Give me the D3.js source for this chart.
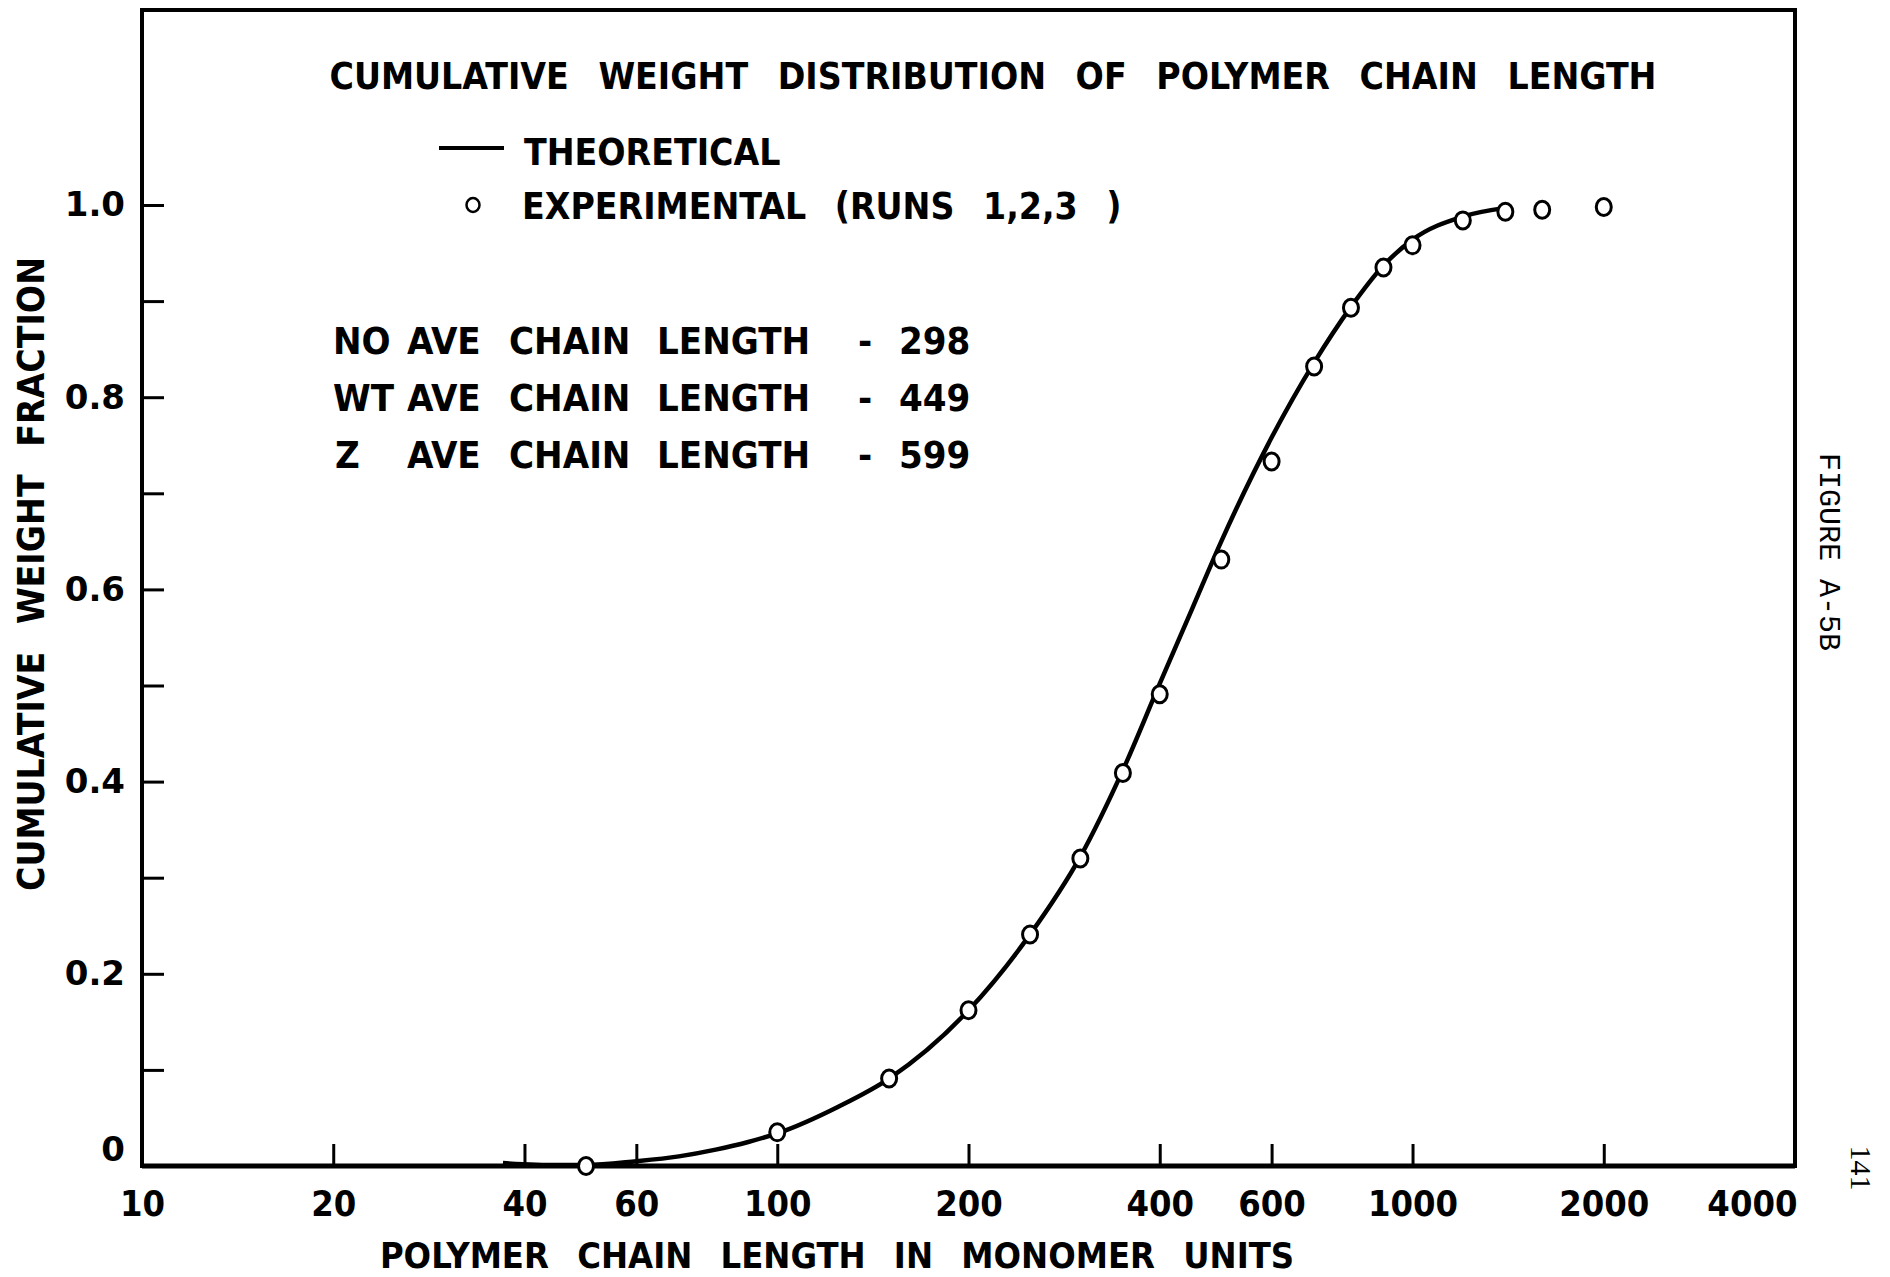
<!DOCTYPE html>
<html>
<head>
<meta charset="utf-8">
<script src="https://cdn.jsdelivr.net/npm/d3@7"></script>
<style>
  body { margin: 0; background: #fff; }
  .lett { font-family: "DejaVu Sans Condensed", "DejaVu Sans", sans-serif; font-stretch: condensed; font-weight: bold; fill: #000; }
  .ytick text { font-family: "DejaVu Sans", sans-serif; font-weight: bold; font-size: 34px; fill: #000; }
  .xtick text { font-family: "DejaVu Sans Condensed", "DejaVu Sans", sans-serif; font-stretch: condensed; font-weight: bold; font-size: 36px; fill: #000; }
  .typed { fill: #000; }
</style>
</head>
<body>
<div id="chart"></div>
<script>
// theoretical curve
var theoryX = [37, 45, 50, 60, 70, 80, 90, 100, 125, 150, 200, 250, 300, 350, 400, 450, 500, 600, 700, 800, 900, 1000, 1200, 1400];
var theoryY = [0.003, 0.001, 0.001, 0.005, 0.010, 0.017, 0.025, 0.034, 0.062, 0.091, 0.162, 0.241, 0.322, 0.412, 0.502, 0.58, 0.65, 0.758, 0.836, 0.894, 0.937, 0.964, 0.988, 0.997];

// experimental points (runs 1,2,3)
var expX = [50, 100, 150, 200, 250, 300, 350, 400, 500, 600, 700, 800, 900, 1000, 1200, 1400, 1600, 2000];
var expY = [0.0, 0.035, 0.091, 0.162, 0.241, 0.320, 0.409, 0.491, 0.631, 0.733, 0.832, 0.893, 0.935, 0.958, 0.984, 0.993, 0.995, 0.998];

var xTicks = [10, 20, 40, 60, 100, 200, 400, 600, 1000, 2000, 4000];
var yTicks = [0, 0.1, 0.2, 0.3, 0.4, 0.5, 0.6, 0.7, 0.8, 0.9, 1.0];
var yTickLabels = ["0", "", "0.2", "", "0.4", "", "0.6", "", "0.8", "", "1.0"];

var aveNames = ["NO", "WT", "Z"];
var aveValues = [298, 449, 599];

var width = 1890, height = 1277;
var mLeft = 142, mRight = 1795, mTop = 10, mBottom = 1166;

var svg = d3.select("#chart").append("svg")
    .attr("width", width)
    .attr("height", height);

var x = d3.scaleLog().domain([10, 4000]).range([mLeft, mRight]);
var y = d3.scaleLinear().domain([0, 1]).range([mBottom, 205]);

// frame
svg.append("rect")
    .attr("x", mLeft).attr("y", mTop)
    .attr("width", mRight - mLeft).attr("height", mBottom - mTop)
    .attr("fill", "none").attr("stroke", "#000").attr("stroke-width", 4);

// y axis, ticks pointing in
var yAxis = d3.axisLeft(y)
    .tickValues(yTicks)
    .tickSizeInner(-22).tickSizeOuter(0)
    .tickPadding(17)
    .tickFormat(function(d, i) { return yTickLabels[i]; });
var gy = svg.append("g").attr("class", "ytick")
    .attr("transform", "translate(" + mLeft + ",0)")
    .call(yAxis);
gy.select(".domain").remove();
gy.selectAll("line").attr("stroke", "#000").attr("stroke-width", 3);
gy.selectAll("text").filter(function(d) { return d == 0; }).attr("y", -16);

// x axis, ticks pointing up
var xAxis = d3.axisBottom(x)
    .tickValues(xTicks)
    .tickSizeInner(-22).tickSizeOuter(0)
    .tickPadding(24)
    .tickFormat(d3.format("d"));
var gx = svg.append("g").attr("class", "xtick")
    .attr("transform", "translate(0," + mBottom + ")")
    .call(xAxis);
gx.select(".domain").remove();
gx.selectAll("line").attr("stroke", "#000").attr("stroke-width", 3);
gx.selectAll("text").filter(function(d) { return d == 4000; })
    .attr("text-anchor", "end").attr("x", 2);

// bottom axis drawn a bit heavier
svg.append("line")
    .attr("x1", mLeft).attr("x2", mRight).attr("y1", mBottom).attr("y2", mBottom)
    .attr("stroke", "#000").attr("stroke-width", 5);

// theoretical line
var line = d3.line()
    .x(function(d) { return x(d[0]); })
    .y(function(d) { return y(d[1]); })
    .curve(d3.curveMonotoneX);
svg.append("path")
    .datum(d3.zip(theoryX, theoryY))
    .attr("d", line)
    .attr("fill", "none").attr("stroke", "#000").attr("stroke-width", 4.5);

// experimental circles
svg.selectAll(".pt")
    .data(d3.zip(expX, expY))
    .enter().append("ellipse")
    .attr("class", "pt")
    .attr("cx", function(d) { return x(d[0]); })
    .attr("cy", function(d) { return y(d[1]); })
    .attr("rx", 7.5).attr("ry", 8.5)
    .attr("fill", "#fff").attr("stroke", "#000").attr("stroke-width", 3);

// title
svg.append("text").attr("class", "lett")
    .attr("x", 993).attr("y", 89)
    .attr("text-anchor", "middle")
    .style("font-size", "37px").style("word-spacing", "18px")
    .text("CUMULATIVE WEIGHT DISTRIBUTION OF POLYMER CHAIN LENGTH");

// legend
svg.append("line")
    .attr("x1", 439).attr("x2", 504).attr("y1", 148).attr("y2", 148)
    .attr("stroke", "#000").attr("stroke-width", 4);
svg.append("text").attr("class", "lett")
    .attr("x", 524).attr("y", 165)
    .style("font-size", "37px")
    .text("THEORETICAL");
svg.append("ellipse")
    .attr("cx", 473).attr("cy", 205).attr("rx", 6.5).attr("ry", 7)
    .attr("fill", "#fff").attr("stroke", "#000").attr("stroke-width", 2.5);
svg.append("text").attr("class", "lett")
    .attr("x", 522).attr("y", 219)
    .style("font-size", "37px").style("word-spacing", "17px")
    .text("EXPERIMENTAL (RUNS 1,2,3 )");

// average chain length notes
var colX = [333, 407, 509, 657, 858, 899];
aveNames.forEach(function(n, i) {
    var words = [n, "AVE", "CHAIN", "LENGTH", "-", String(aveValues[i])];
    var ty = 354 + i * 57;
    svg.append("g").selectAll("text")
        .data(words).enter().append("text")
        .attr("class", "lett")
        .attr("x", function(_, j) { return colX[j] + (j == 0 && n == "Z" ? 2 : 0); })
        .attr("y", ty)
        .style("font-size", "38px")
        .text(function(d) { return d; });
});

// axis titles
svg.append("text").attr("class", "lett")
    .attr("x", 837).attr("y", 1268)
    .attr("text-anchor", "middle")
    .style("font-size", "36px").style("word-spacing", "17px")
    .text("POLYMER CHAIN LENGTH IN MONOMER UNITS");
svg.append("text").attr("class", "lett")
    .attr("transform", "translate(44,574) rotate(-90)")
    .attr("text-anchor", "middle")
    .style("font-size", "37px").style("word-spacing", "16px")
    .text("CUMULATIVE WEIGHT FRACTION");

// typed figure number and page number
svg.append("text").attr("class", "typed")
    .attr("transform", "translate(1820,552) rotate(90)")
    .attr("text-anchor", "middle")
    .style("font-family", "'Liberation Mono', 'DejaVu Sans Mono', monospace")
    .style("font-size", "30px")
    .text("FIGURE A-5B");
svg.append("text").attr("class", "typed")
    .attr("transform", "translate(1851,1168) rotate(90)")
    .attr("text-anchor", "middle")
    .style("font-family", "'Liberation Serif', 'DejaVu Serif', serif")
    .style("font-size", "30px")
    .text("141");
</script>
</body>
</html>
